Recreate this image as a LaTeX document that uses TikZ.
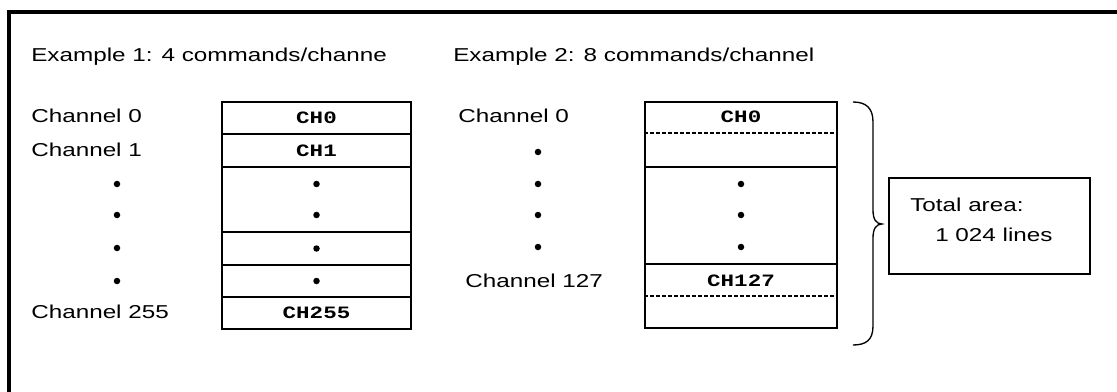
\documentclass[tikz,border=0pt]{standalone}
\usepackage{fontspec}
\setmainfont{Liberation Sans}[FakeStretch=1.3]
\newfontfamily\codefont{Liberation Mono}[FakeStretch=1.3]
\newdimen\px
\px=0.75pt
\begin{document}
\begin{tikzpicture}[x=0.75pt,y=-0.75pt,
  lbl/.style={anchor=west,inner sep=0pt,font=\fontsize{14}{16}\selectfont},
  code/.style={inner sep=0pt,font=\codefont\bfseries\fontsize{13}{15}\selectfont},
  dotm/.style={circle,fill=black,inner sep=0pt,minimum size=6.5\px},
  cell/.style={draw,line width=2pt,inner sep=0pt},
  frameline/.style={line width=3pt},
  sep/.style={line width=0.8pt,dash pattern=on 3pt off 1.5pt},
  bracestyle/.style={line width=1pt},
  totbox/.style={draw,line width=1pt,inner sep=0pt}]
\clip (0,0) rectangle (1117,392);
\fill[white] (0,0) rectangle (1117,392);
% outer frame
\draw[frameline] (8.5,420) -- (8.5,12.5) -- (1140,12.5);
% titles
\node[lbl] (t1) at (31,57) {Example 1: 4 commands/channe};
\node[lbl] (t2) at (453,57) {Example 2: 8 commands/channel};
% Example 1 table
\node[cell,minimum width=189\px,minimum height=32\px] (a1) at (316.5,118) {};
\node[cell,minimum width=189\px,minimum height=33\px] (a2) at (316.5,150.5) {};
\node[cell,minimum width=189\px,minimum height=65\px] (a3) at (316.5,199.5) {};
\node[cell,minimum width=189\px,minimum height=33\px] (a4) at (316.5,248.5) {};
\node[cell,minimum width=189\px,minimum height=32\px] (a5) at (316.5,281) {};
\node[cell,minimum width=189\px,minimum height=32\px] (a6) at (316.5,313) {};
\node[code] (c0) at (a1) {CH0};
\node[code] (c1) at (a2) {CH1};
\node[dotm] (ad1) at (316.5,184) {};
\node[dotm] (ad2) at (316.5,215) {};
\node[dotm] (ad3) at (316.5,248.5) {};
\node[dotm] (ad4) at (316.5,281) {};
\node[code] (c255) at (a6) {CH255};
% Example 1 labels
\node[lbl] (l0) at (31,116) {Channel 0};
\node[lbl] (l1) at (31,150) {Channel 1};
\node[dotm] (ld1) at (117,184) {};
\node[dotm] (ld2) at (117,215) {};
\node[dotm] (ld3) at (117,248) {};
\node[dotm] (ld4) at (117,281) {};
\node[lbl] (l255) at (31,312) {Channel 255};
% Example 2 table
\node[cell,minimum width=192\px,minimum height=65\px] (b1) at (741,134.5) {};
\node[cell,minimum width=192\px,minimum height=97\px] (b2) at (741,215.5) {};
\node[cell,minimum width=192\px,minimum height=64\px] (b3) at (741,296) {};
\draw[sep] (b1.west |- 0,133) -- (b1.east |- 0,133);
\draw[sep] (b3.west |- 0,296) -- (b3.east |- 0,296);
\node[code] (d0) at (741,117) {CH0};
\node[dotm] (bd1) at (741,184) {};
\node[dotm] (bd2) at (741,215) {};
\node[dotm] (bd3) at (741,247) {};
\node[code] (d127) at (741,281) {CH127};
% Example 2 labels
\node[lbl] (m0) at (458,116) {Channel 0};
\node[dotm] (md1) at (538,152) {};
\node[dotm] (md2) at (538,184) {};
\node[dotm] (md3) at (538,215) {};
\node[dotm] (md4) at (538,247) {};
\node[lbl] (m127) at (465,281) {Channel 127};
% brace
\coordinate (btop) at (853,102);
\coordinate (bbot) at (853,345);
\coordinate (btip) at (882,224);
\draw[bracestyle] (btop) .. controls (866,102) and (873,108) .. (873,122) -- (873,210)
  .. controls (873,219) and (876,224) .. (btip)
  .. controls (876,224) and (873,229) .. (873,238) -- (873,326)
  .. controls (873,340) and (866,345) .. (bbot);
% total area box
\node[totbox,minimum width=201\px,minimum height=96\px] (tot) at (989.5,226) {};
\node[lbl] (tot1) at (910,205) {Total area:};
\node[lbl] (tot2) at (935,235) {1 024 lines};
\end{tikzpicture}
\end{document}
